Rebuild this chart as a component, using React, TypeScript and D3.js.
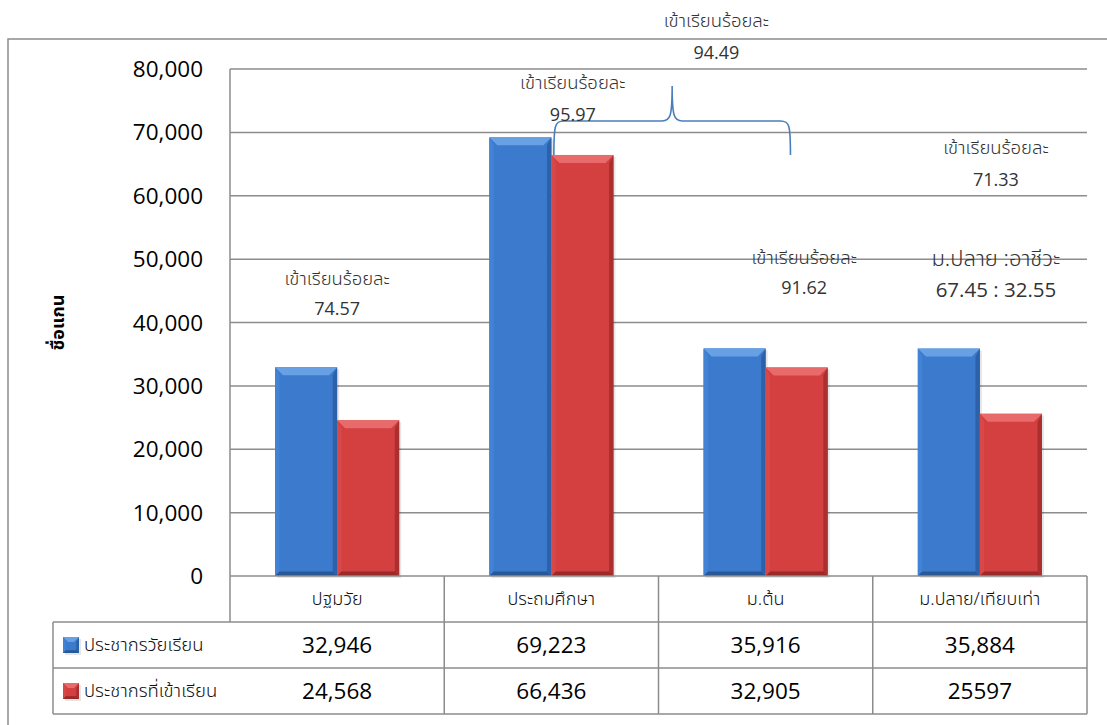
import * as d3 from 'd3'

const categories = ['ปฐมวัย', 'ประถมศึกษา', 'ม.ต้น', 'ม.ปลาย/เทียบเท่า']
const seriesNames = ['ประชากรวัยเรียน', 'ประชากรที่เข้าเรียน']
const schoolAge = [32946, 69223, 35916, 35884]
const enrolled = [24568, 66436, 32905, 25597]
const tableText = [
  ['32,946', '69,223', '35,916', '35,884'],
  ['24,568', '66,436', '32,905', '25597'],
]
const yTicks = [0, 10000, 20000, 30000, 40000, 50000, 60000, 70000, 80000]

// notes: [category index, shift within band (fraction), value of 1st line, value of 2nd line, text1, text2, big]
const notes: [number, number, number, number, string, string, boolean][] = [
  [0, 0, 46900, 42150, 'เข้าเรียนร้อยละ', '74.57', false],
  [1, 0.1, 77800, 72750, 'เข้าเรียนร้อยละ', '95.97', false],
  [1.5, 0.27, 87600, 82550, 'เข้าเรียนร้อยละ', '94.49', false],
  [2, 0.18, 50200, 45450, 'เข้าเรียนร้อยละ', '91.62', false],
  [3, 0.075, 67550, 62500, 'เข้าเรียนร้อยละ', '71.33', false],
  [3, 0.075, 50200, 45150, 'ม.ปลาย :อาชีวะ', '67.45 : 32.55', true],
]

const W = 1107
const H = 725
const thai = '"Noto Sans Thai", "Noto Sans Thai UI", "Leelawadee UI", Tahoma, "DejaVu Sans", sans-serif'
const num = '"Open Sans", "Noto Sans", sans-serif'
const gridColor = '#8c8c8c'

const palettes = [
  { base: '#3b7acd', top: '#68a0e4', left: '#4383d6', right: '#2d62aa', bottom: '#2a5896' },
  { base: '#d43f3f', top: '#e96a6a', left: '#d94848', right: '#aa3030', bottom: '#992a2a' },
]

function Bevel({ x, y, w, h, p, b = 8 }: { x: number, y: number, w: number, h: number, p: typeof palettes[number], b?: number }){
  const bb = Math.min(b, w / 2, h / 2)
  const s = bb * 0.55
  return (
    <g>
      <rect x={x + 2} y={y + 2} width={w} height={h} fill="#000" opacity={0.1} />
      <rect x={x} y={y} width={w} height={h} fill={p.base} />
      <polygon points={`${x},${y} ${x + s},${y + bb} ${x + s},${y + h - s} ${x},${y + h}`} fill={p.left} />
      <polygon points={`${x + w},${y} ${x + w},${y + h} ${x + w - s},${y + h - s} ${x + w - s},${y + bb}`} fill={p.right} />
      <polygon points={`${x},${y + h} ${x + s},${y + h - s} ${x + w - s},${y + h - s} ${x + w},${y + h}`} fill={p.bottom} />
      <polygon points={`${x},${y} ${x + w},${y} ${x + w - bb},${y + bb} ${x + bb},${y + bb}`} fill={p.top} />
    </g>
  )
}

export default function App(){
  const plot = { left: 230, right: 1087, top: 69, bottom: 576 }
  const tableLeft = 53
  const rowH = 46

  const x = d3.scaleBand<string>().domain(categories).range([plot.left, plot.right])
  const inner = d3.scaleBand<number>().domain([0, 1]).range([0, x.bandwidth()]).paddingInner(0).paddingOuter(0.726)
  const y = d3.scaleLinear().domain([0, 80000]).range([plot.bottom, plot.top])
  const bw = x.bandwidth()
  const catX = (i: number) => plot.left + i * bw + bw / 2

  const series = [schoolAge, enrolled]

  // brace over primary → lower secondary
  const bx0 = (x(categories[1]) ?? 0) + (inner(1) ?? 0) + inner.bandwidth() * 0.04
  const bx1 = (x(categories[2]) ?? 0) + (inner(1) ?? 0) + inner.bandwidth() * 0.4
  const bmid = (bx0 + bx1) / 2
  const by0 = y(enrolled[1])
  const by1 = y(71800)
  const byTop = y(77300)
  const r = 10
  const brace = d3.path()
  brace.moveTo(bx0, by0)
  brace.bezierCurveTo(bx0, by1 + 4, bx0 + 1, by1, bx0 + r, by1)
  brace.lineTo(bmid - r, by1)
  brace.bezierCurveTo(bmid - 2, by1, bmid, by1 - 4, bmid, byTop)
  brace.bezierCurveTo(bmid, by1 - 4, bmid + 2, by1, bmid + r, by1)
  brace.lineTo(bx1 - r, by1)
  brace.bezierCurveTo(bx1 - 1, by1, bx1, by1 + 4, bx1, by0)

  const rowTop = plot.bottom
  const r1 = rowTop + rowH
  const r2 = r1 + rowH
  const r3 = r2 + rowH

  return (
    <svg width={W} height={H} style={{ position: 'absolute', left: 0, top: 0, background: '#fff' }}>
      {/* outer chart frame */}
      <path d={`M8,${H + 5} V39 H${W + 5}`} fill="none" stroke={gridColor} strokeWidth={1.5} />

      {/* grid */}
      {yTicks.filter(t => t > 0).map(t => (
        <line key={t} x1={plot.left} x2={plot.right} y1={y(t)} y2={y(t)} stroke={gridColor} strokeWidth={1.5} />
      ))}
      <line x1={plot.left} x2={plot.left} y1={plot.top} y2={r1} stroke={gridColor} strokeWidth={1.5} />

      {/* y ticks */}
      {yTicks.map(t => (
        <text key={t} x={203} y={y(t)} dy="0.36em" textAnchor="end" fontFamily={num} fontSize={22.5} fill="#000">
          {d3.format(',')(t)}
        </text>
      ))}
      <text transform={`translate(64,${(plot.top + plot.bottom) / 2}) rotate(-90)`} textAnchor="middle" fontFamily={thai} fontSize={18} fontWeight="bold" fill="#000">ชื่อแกน</text>

      {/* bars */}
      {categories.map((c, i) => series.map((s, k) => (
        <Bevel key={`${c}-${k}`} x={(x(c) ?? 0) + (inner(k) ?? 0)} y={y(s[i])} w={inner.bandwidth()} h={y(0) - y(s[i])} p={palettes[k]} />
      )))}

      {/* brace */}
      <path d={brace.toString()} fill="none" stroke="#4a7ebb" strokeWidth={1.6} />

      {/* notes */}
      {notes.map(([ci, shift, v1, v2, t1, t2, big], i) => {
        const cx = catX(ci) + shift * bw
        const fs = big ? 22 : 18.5
        return (
          <g key={i} fontFamily={thai} fontSize={fs} fill="#333" textAnchor="middle" fontWeight={300}>
            <text x={cx} y={y(v1)} dy="0.35em">{t1}</text>
            <text x={cx} y={y(v2)} dy="0.35em" fontFamily={num} fontWeight={400} fontSize={big ? 20.5 : 18}>{t2}</text>
          </g>
        )
      })}

      {/* data table */}
      <g stroke={gridColor} strokeWidth={1.5} fill="none">
        <line x1={plot.left} x2={plot.right} y1={rowTop} y2={rowTop} />
        <line x1={tableLeft} x2={plot.right} y1={r1} y2={r1} />
        <line x1={tableLeft} x2={plot.right} y1={r2} y2={r2} />
        <line x1={tableLeft} x2={plot.right} y1={r3} y2={r3} />
        <line x1={tableLeft} x2={tableLeft} y1={r1} y2={r3} />
        {categories.map(c => (
          <line key={c} x1={(x(c) ?? 0) + bw} x2={(x(c) ?? 0) + bw} y1={rowTop} y2={r3} />
        ))}
      </g>
      {categories.map((c, i) => (
        <text key={c} x={catX(i)} y={rowTop + rowH / 2} dy="0.35em" textAnchor="middle" fontFamily={thai} fontSize={18} fontWeight={300} fill="#111">{c}</text>
      ))}
      {tableText.map((row, k) => row.map((v, i) => (
        <text key={`${k}-${i}`} x={catX(i)} y={r1 + k * rowH + rowH / 2} dy="0.36em" textAnchor="middle" fontFamily={num} fontSize={22.5} fill="#000">{v}</text>
      )))}
      {seriesNames.map((n, k) => {
        const cy = r1 + k * rowH + rowH / 2
        return (
          <g key={n}>
            <Bevel x={63} y={cy - 8} w={16} h={16} p={palettes[k]} b={5} />
            <text x={84} y={cy} dy="0.35em" fontFamily={thai} fontSize={18.5} fontWeight={300} fill="#111">{n}</text>
          </g>
        )
      })}
    </svg>
  )
}
